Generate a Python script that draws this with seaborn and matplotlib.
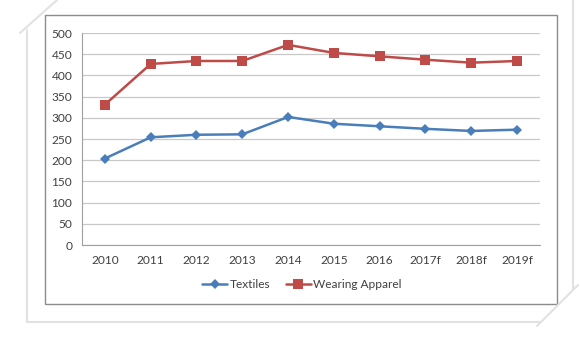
import matplotlib
matplotlib.use("Agg")
import matplotlib.pyplot as plt
from matplotlib.lines import Line2D
from matplotlib.patches import Rectangle
from matplotlib.ticker import FixedLocator, NullFormatter
import seaborn as sns
import pandas as pd

years = ["2010", "2011", "2012", "2013", "2014", "2015", "2016", "2017f", "2018f", "2019f"]
textiles = [204, 254, 260, 261, 302, 286, 280, 274, 269, 272]
apparel = [331, 427, 434, 434, 472, 453, 445, 437, 430, 434]
series_names = ["Textiles", "Wearing Apparel"]
y_ticks = [0, 50, 100, 150, 200, 250, 300, 350, 400, 450, 500]

df = pd.DataFrame({
    "year": years * 2,
    "value": textiles + apparel,
    "series": [series_names[0]] * len(years) + [series_names[1]] * len(years),
})

sns.set_style("white")
plt.rcParams["font.family"] = ["Lato", "DejaVu Sans"]

W, H = 580, 338
fig = plt.figure(figsize=(W / 100, H / 100), dpi=100)
fig.patch.set_facecolor("white")

def px(x, y):
    return x / W, 1 - y / H

# outer card decoration
card_col = "#e2e2e2"
for (x0, y0, x1, y1) in [(27, 30, 27, 322), (27, 322, 540, 322), (573, 0, 573, 290),
                         (20, 33, 57, 0), (537, 326, 578, 285)]:
    a, b = px(x0, y0)
    c, d = px(x1, y1)
    fig.add_artist(Line2D([a, c], [b, d], color=card_col, lw=1.5, transform=fig.transFigure))

# chart frame
fx0, fy0 = px(45, 304)
fx1, fy1 = px(557, 15)
fig.add_artist(Rectangle((fx0, fy0), fx1 - fx0, fy1 - fy0, fill=False,
                         edgecolor="#8c8c8c", lw=1.0, transform=fig.transFigure))

l, b = px(82, 245)
r, t = px(540, 33)
ax = fig.add_axes([l, b, r - l, t - b])

palette = {series_names[0]: "#4a7ebb", series_names[1]: "#be4b48"}
sns.lineplot(data=df, x="year", y="value", hue="series", style="series",
             markers={series_names[0]: "D", series_names[1]: "s"},
             dashes=False, palette=palette, lw=1.8, ax=ax, sort=False,
             markeredgewidth=0)
for line in ax.lines:
    if line.get_marker() == "s":
        line.set_markersize(7.5)
    elif line.get_marker() == "D":
        line.set_markersize(5.5)

ax.set_xlim(-0.5, len(years) - 0.5)
ax.set_ylim(0, 500)
ax.set_yticks(y_ticks)
ax.set_xticks(range(len(years)))
ax.set_xticklabels(years)
ax.xaxis.set_minor_locator(FixedLocator([i - 0.5 for i in range(len(years) + 1)]))
ax.xaxis.set_minor_formatter(NullFormatter())
ax.tick_params(axis="x", which="major", length=0, pad=7, labelsize=8.6, colors="#404040")
ax.tick_params(axis="x", which="minor", length=4, width=0.8, color="#a0a0a0", direction="out")
ax.tick_params(axis="y", length=4, width=0.8, color="#a0a0a0", labelsize=8.6, labelcolor="#404040", pad=3)
ax.yaxis.grid(True, color="#c8c8c8", lw=0.9)
ax.set_axisbelow(True)
for s in ["top", "right"]:
    ax.spines[s].set_visible(False)
for s in ["left", "bottom"]:
    ax.spines[s].set_color("#a0a0a0")
    ax.spines[s].set_linewidth(0.8)
ax.set_xlabel("")
ax.set_ylabel("")

handles, labels = ax.get_legend_handles_labels()
ax.legend(handles, labels, loc="center", bbox_to_anchor=(px(302, 285)[0], px(302, 285)[1]),
          bbox_transform=fig.transFigure, ncol=2, frameon=False, fontsize=8.6,
          handlelength=2.1, columnspacing=1.3, handletextpad=0.2, labelcolor="#404040")

fig.savefig("out.png", dpi=100)
